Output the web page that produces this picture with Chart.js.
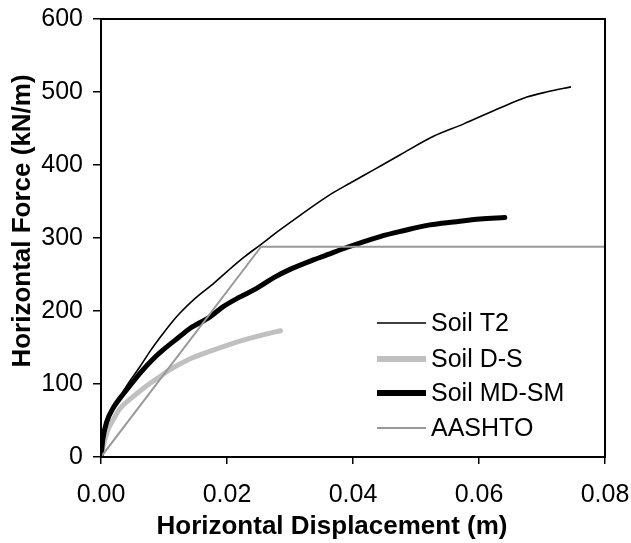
<!DOCTYPE html>
<html>
<head>
<meta charset="utf-8">
<script src="https://cdn.jsdelivr.net/npm/chart.js@4/dist/chart.umd.min.js"></script>
<style>
  html, body { margin: 0; padding: 0; background: #fff; }
  #wrap { width: 631px; height: 543px; position: relative; }
</style>
</head>
<body>
<div id="wrap"><canvas id="forceChart"></canvas></div>
<script>
// ==================== data ====================
const seriesNames = ['Soil T2', 'Soil D-S', 'Soil MD-SM', 'AASHTO'];

const t2Disp  = [0, 0.0005, 0.001, 0.002, 0.003, 0.0045, 0.0062, 0.0078, 0.0094, 0.011, 0.0125, 0.0149, 0.0175, 0.02, 0.0226, 0.0252, 0.0284, 0.0316, 0.0363, 0.0395, 0.0432, 0.0475, 0.0527, 0.0575, 0.0633, 0.0676, 0.0707, 0.0746];
const t2Force = [0, 28, 45, 66, 82, 103, 124, 145, 164, 182, 197, 217, 235, 254, 273, 290, 311, 331, 359, 375, 393, 414, 439, 456, 478, 493, 500, 507];

const dsDisp  = [0, 0.0005, 0.001, 0.002, 0.003, 0.005, 0.007, 0.009, 0.011, 0.014, 0.017, 0.02, 0.023, 0.026, 0.0285];
const dsForce = [0, 20, 35, 52, 66, 82, 96, 108, 120, 134, 144, 153, 161, 168, 173];

const mdDisp  = [0, 0.0003, 0.0009, 0.002, 0.0035, 0.005, 0.0062, 0.008, 0.0099, 0.0125, 0.0141, 0.0173, 0.0194, 0.022, 0.0247, 0.0275, 0.03, 0.0337, 0.0353, 0.039, 0.0443, 0.048, 0.0522, 0.056, 0.0602, 0.0641];
const mdForce = [0, 25, 48, 68, 86, 102, 115, 132, 147, 165, 176, 192, 206, 219, 231, 246, 257, 270, 275, 287, 302, 310, 318, 322, 326, 328];

const aashtoDisp  = [0, 0.0254, 0.08];
const aashtoForce = [0, 288, 288];

const xTicks = [0, 0.02, 0.04, 0.06, 0.08];
const yTicks = [0, 100, 200, 300, 400, 500, 600];

const xTitle = 'Horizontal Displacement (m)';
const yTitle = 'Horizontal Force (kN/m)';

const toPoints = (xs, ys) => xs.map((x, i) => ({ x: x, y: ys[i] }));

// 绘图区外框 + 轴标题 + 图内图例
const decorPlugin = {
    id: 'decor',
    afterDatasetsDraw(chart) {
        const { ctx, chartArea: a } = chart;
        ctx.save();
        ctx.strokeStyle = '#000';
        ctx.lineWidth = 2;
        ctx.strokeRect(a.left, a.top, a.right - a.left, a.bottom - a.top);
        ctx.restore();
    },
    afterDraw(chart) {
        const { ctx } = chart;
        ctx.save();
        ctx.fillStyle = '#000';
        ctx.font = 'bold 26px "Liberation Sans", Arial, sans-serif';
        ctx.textAlign = 'center';
        ctx.textBaseline = 'middle';
        ctx.fillText(xTitle, 332, 527);
        ctx.translate(23, 221);
        ctx.rotate(-Math.PI / 2);
        ctx.fillText(yTitle, 0, 0);
        ctx.restore();

        // legend
        const rowsY = [323, 359, 393, 428];
        const legendWidths = [1.5, 6, 6, 2];
        ctx.save();
        ctx.font = '25px "Liberation Sans", Arial, sans-serif';
        ctx.textBaseline = 'middle';
        ctx.textAlign = 'left';
        chart.data.datasets.forEach((ds, i) => {
            ctx.strokeStyle = ds.borderColor;
            ctx.lineWidth = legendWidths[i];
            ctx.beginPath();
            ctx.moveTo(377, rowsY[i]);
            ctx.lineTo(426, rowsY[i]);
            ctx.stroke();
            ctx.fillStyle = '#000';
            ctx.fillText(ds.label, 431, rowsY[i] + 1);
        });
        ctx.restore();
    }
};

const ctx = document.getElementById('forceChart');
new Chart(ctx, {
    type: 'line',
    data: {
        datasets: [{
            label: seriesNames[0],
            data: toPoints(t2Disp, t2Force),
            borderColor: '#000000',
            borderWidth: 1.6,
            cubicInterpolationMode: 'monotone',
            order: 1
        }, {
            label: seriesNames[1],
            data: toPoints(dsDisp, dsForce),
            borderColor: '#c0c0c0',
            borderWidth: 5,
            borderCapStyle: 'round',
            cubicInterpolationMode: 'monotone',
            order: 3
        }, {
            label: seriesNames[2],
            data: toPoints(mdDisp, mdForce),
            borderColor: '#000000',
            borderWidth: 5,
            borderCapStyle: 'round',
            cubicInterpolationMode: 'monotone',
            order: 2
        }, {
            label: seriesNames[3],
            data: toPoints(aashtoDisp, aashtoForce),
            borderColor: '#999999',
            borderWidth: 2,
            order: 0
        }]
    },
    options: {
        responsive: true,
        maintainAspectRatio: false,
        animation: false,
        events: [],
        layout: {
            padding: { left: 0, right: 26, top: 19, bottom: 0 }
        },
        elements: {
            point: { radius: 0 },
            line: { tension: 0, borderJoinStyle: 'round' }
        },
        plugins: {
            legend: { display: false },
            tooltip: { enabled: false }
        },
        scales: {
            x: {
                type: 'linear',
                min: 0,
                max: 0.08,
                afterBuildTicks: (scale) => { scale.ticks = xTicks.map(v => ({ value: v })); },
                afterFit: (scale) => {
                    scale.height = 86;
                    scale.paddingLeft = 0;
                    scale.paddingRight = 0;
                },
                border: { display: false },
                grid: {
                    drawOnChartArea: false,
                    drawTicks: true,
                    tickLength: 7,
                    color: '#000',
                    lineWidth: 1.5
                },
                ticks: {
                    color: '#000',
                    padding: 16,
                    maxRotation: 0,
                    font: { family: '"Liberation Sans", Arial, sans-serif', size: 25 },
                    callback: (v) => Number(v).toFixed(2)
                }
            },
            y: {
                type: 'linear',
                min: 0,
                max: 600,
                afterBuildTicks: (scale) => { scale.ticks = yTicks.map(v => ({ value: v })); },
                afterFit: (scale) => {
                    scale.width = 101;
                    scale.paddingTop = 0;
                    scale.paddingBottom = 0;
                },
                border: { display: false },
                grid: {
                    drawOnChartArea: false,
                    drawTicks: true,
                    tickLength: 8,
                    color: '#000',
                    lineWidth: 1.5
                },
                ticks: {
                    color: '#000',
                    padding: 10,
                    font: { family: '"Liberation Sans", Arial, sans-serif', size: 25 }
                }
            }
        }
    },
    plugins: [decorPlugin]
});
</script>
</body>
</html>
